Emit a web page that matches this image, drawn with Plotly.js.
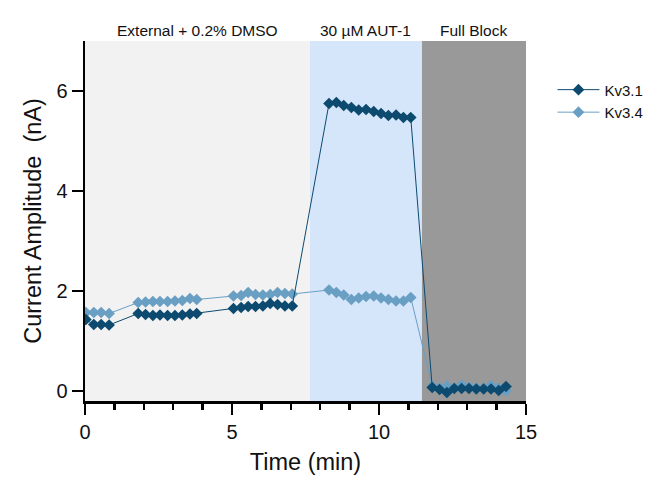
<!DOCTYPE html>
<html>
<head>
<meta charset="utf-8">
<script src="https://cdn.plot.ly/plotly-3.0.1.min.js"></script>
<style>
  body { margin: 0; }
  #chart { width: 668px; height: 499px; }
</style>
</head>
<body>
<div id="chart"></div>
<script>
// time points (min), same for both channels
var time = [0.03, 0.3, 0.55, 0.82,
            1.81, 2.06, 2.31, 2.55, 2.81, 3.06, 3.31, 3.57, 3.8,
            5.05, 5.31, 5.55, 5.8, 6.05, 6.3, 6.55, 6.8, 7.05,
            8.3, 8.55, 8.8, 9.06, 9.31, 9.56, 9.82, 10.07, 10.32, 10.58, 10.83, 11.08,
            11.81, 12.06, 12.31, 12.56, 12.81, 13.06, 13.31, 13.56, 13.81, 14.07, 14.32];

var kv31 = [1.43, 1.33, 1.33, 1.32,
            1.55, 1.53, 1.51, 1.52, 1.51, 1.51, 1.52, 1.54, 1.55,
            1.65, 1.67, 1.69, 1.69, 1.7, 1.75, 1.73, 1.7, 1.7,
            5.75, 5.77, 5.71, 5.67, 5.62, 5.63, 5.59, 5.55, 5.51, 5.52, 5.47, 5.47,
            0.07, 0.03, -0.03, 0.05, 0.05, 0.05, 0.04, 0.04, 0.04, 0.01, 0.09];

var kv34 = [1.57, 1.57, 1.57, 1.55,
            1.77, 1.78, 1.79, 1.79, 1.79, 1.8, 1.81, 1.85, 1.83,
            1.9, 1.91, 1.97, 1.93, 1.92, 1.93, 1.97, 1.95, 1.94,
            2.02, 1.97, 1.92, 1.83, 1.86, 1.89, 1.9, 1.86, 1.83, 1.8, 1.8, 1.87,
            0.1, 0.06, 0.1, 0.06, 0.12, 0.08, 0.06, 0.06, 0.11, 0.06, 0.0];

// treatment periods
var phaseNames = ['External + 0.2% DMSO', '30 µM AUT-1', 'Full Block'];
var phaseStart = [0, 7.65, 11.46];
var phaseEnd = [7.65, 11.46, 15];
var phaseColors = ['#f2f2f2', '#d6e6fa', '#999999'];

var shapes = [];
var annotations = [];
for (var i = 0; i < phaseNames.length; i++) {
  shapes.push({
    type: 'rect', xref: 'x', yref: 'paper',
    x0: phaseStart[i], x1: phaseEnd[i], y0: 0, y1: 1,
    fillcolor: phaseColors[i], line: {width: 0}, layer: 'below'
  });
  annotations.push({
    x: (phaseStart[i] + phaseEnd[i]) / 2, y: 1, xref: 'x', yref: 'paper',
    yanchor: 'bottom', yshift: 0, showarrow: false,
    text: phaseNames[i], font: {size: 15.5, color: '#111'}
  });
}

var data = [
  {
    x: time, y: kv34, name: 'Kv3.4', type: 'scatter', mode: 'lines+markers',
    line: {color: '#6a9fc4', width: 1},
    marker: {symbol: 'diamond', size: 9, color: '#6a9fc4'},
    legendrank: 2
  },
  {
    x: time, y: kv31, name: 'Kv3.1', type: 'scatter', mode: 'lines+markers',
    line: {color: '#0d4a6f', width: 1},
    marker: {symbol: 'diamond', size: 9, color: '#0d4a6f'},
    legendrank: 1
  }
];

var layout = {
  width: 668,
  height: 499,
  margin: {l: 85, r: 142, t: 41, b: 98},
  paper_bgcolor: '#ffffff',
  plot_bgcolor: '#ffffff',
  font: {family: '"Liberation Sans", Arial, sans-serif', color: '#111'},
  showlegend: true,
  legend: {
    x: 1.06, y: 0.91, xanchor: 'left', yanchor: 'top',
    itemwidth: 42,
    font: {size: 15}, bgcolor: 'rgba(0,0,0,0)'
  },
  xaxis: {
    range: [0, 15],
    tickvals: [0, 5, 10, 15],
    ticks: 'outside', ticklen: 11, tickwidth: 2.5, tickcolor: '#000',
    minor: {ticks: 'outside', dtick: 1, ticklen: 6, tickwidth: 2.5, tickcolor: '#000'},
    showline: true, linecolor: '#000', linewidth: 2.5,
    showgrid: false, zeroline: false,
    tickfont: {size: 20},
    title: {text: 'Time (min)', font: {size: 23.5}, standoff: 12}
  },
  yaxis: {
    range: [-0.2, 7],
    tickvals: [0, 2, 4, 6],
    ticks: 'outside', ticklen: 11, tickwidth: 2.5, tickcolor: '#000',
    showline: true, linecolor: '#000', linewidth: 2.5,
    showgrid: false, zeroline: false,
    tickfont: {size: 20},
    title: {text: 'Current Amplitude\u00a0 (nA)', font: {size: 23.5}, standoff: 8}
  },
  shapes: shapes,
  annotations: annotations
};

Plotly.newPlot('chart', data, layout, {displayModeBar: false, staticPlot: true});
</script>
</body>
</html>
